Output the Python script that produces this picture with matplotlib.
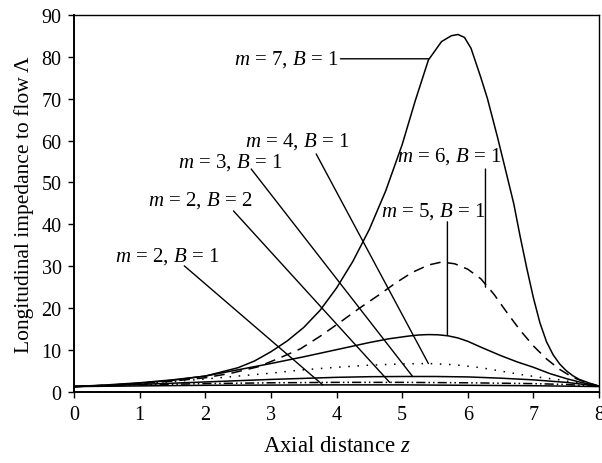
import numpy as np
import matplotlib
matplotlib.use("Agg")
import matplotlib.pyplot as plt

plt.rcParams['font.family'] = ['Liberation Serif', 'DejaVu Serif']
plt.rcParams['mathtext.fontset'] = 'custom'
plt.rcParams['mathtext.rm'] = 'Liberation Serif'
plt.rcParams['mathtext.it'] = 'Liberation Serif:italic'

# curves
z7 = [0, 0.5, 1, 1.5, 2, 2.5, 2.75, 3, 3.25, 3.5, 3.75, 4, 4.25, 4.5, 4.75, 5, 5.2, 5.4, 5.6, 5.75,
      5.85, 5.95, 6.05, 6.2, 6.3, 6.45, 6.56, 6.7, 6.8, 6.9, 7.0, 7.1, 7.2, 7.3, 7.4, 7.5,
      7.6, 7.7, 7.84, 8]
l7 = [1.3, 1.6, 2.1, 2.8, 3.8, 5.8, 7.4, 9.6, 12.2, 15.4, 19.5, 24.8, 31.2, 38.8, 48.0, 59.0, 69.5, 79.2, 83.6, 85.0,
      85.3, 84.6, 82, 75, 70, 61, 54, 45, 37, 29.5, 22.5, 16.5, 12, 8.9, 6.7, 5.1,
      3.9, 3.0, 2.2, 1.4]

z6 = [0, 0.5, 1, 1.5, 2, 2.4, 2.8, 3.1, 3.45, 3.75, 4.05, 4.35, 4.65, 4.9, 5.15, 5.4, 5.6, 5.8,
      6.0, 6.2, 6.4, 6.6, 6.8, 7.0, 7.2, 7.4, 7.6, 7.8, 8]
l6 = [1.3, 1.6, 2.0, 2.6, 3.4, 4.5, 6.0, 7.9, 10.3, 13.3, 16.6, 20.0, 23.2, 26.0, 28.5, 30.3, 31.0, 30.6,
      29.3, 27.0, 23.3, 18.9, 14.7, 11.0, 7.9, 5.4, 3.5, 2.3, 1.4]

z5 = [0, 0.5, 1, 1.5, 2, 2.5, 3, 3.5, 4, 4.5, 4.8, 5.1, 5.25, 5.4, 5.55, 5.7, 5.85, 6.0, 6.2, 6.5,
      6.75, 7.0, 7.25, 7.5, 7.75, 8]
l5 = [1.3, 1.7, 2.2, 2.9, 3.8, 5.3, 6.8, 8.4, 10.1, 11.8, 12.7, 13.35, 13.6, 13.7, 13.65, 13.4, 12.9, 12.1, 10.7, 8.7,
      7.2, 5.9, 4.4, 3.2, 2.2, 1.4]

z4 = [0, 0.5, 1, 1.5, 2, 2.5, 3, 3.5, 4, 4.5, 5, 5.4, 5.8, 6.2, 6.5, 6.8, 7.1, 7.4, 7.7, 8]
l4 = [1.3, 1.6, 2.0, 2.5, 3.1, 3.8, 4.5, 5.3, 5.9, 6.4, 6.7, 6.8, 6.5, 5.8, 5.0, 4.2, 3.5, 2.9, 2.1, 1.4]

z3 = [0, 0.5, 1, 1.5, 2, 2.5, 3, 3.5, 4, 4.5, 5, 5.5, 6, 6.5, 7, 7.5, 8]
l3 = [1.3, 1.5, 1.8, 2.1, 2.4, 2.7, 3.0, 3.25, 3.5, 3.65, 3.7, 3.7, 3.6, 3.3, 2.9, 2.3, 1.4]

z22 = [0, 1, 2, 3, 4, 5, 6, 7, 7.5, 8]
l22 = [1.3, 1.7, 2.0, 2.2, 2.3, 2.3, 2.2, 2.0, 1.8, 1.3]

z21 = [0, 1, 2, 3, 4, 5, 6, 7, 8]
l21 = [1.3, 1.45, 1.6, 1.65, 1.7, 1.7, 1.6, 1.5, 1.3]

# label text, text position, leader start, leader end
labels = [r'$m$ = 7, $B$ = 1', r'$m$ = 6, $B$ = 1', r'$m$ = 5, $B$ = 1', r'$m$ = 4, $B$ = 1',
          r'$m$ = 3, $B$ = 1', r'$m$ = 2, $B$ = 2', r'$m$ = 2, $B$ = 1']
text_xy = [(4.03, 79.5), (5.71, 56.3), (5.47, 43.2), (3.40, 60.0), (2.38, 55.1), (1.92, 45.8), (1.42, 32.5)]
lead_from = [(4.06, 79.5), (6.27, 53.2), (5.69, 40.6), (3.69, 56.8), (2.70, 53.2), (2.43, 43.2), (1.68, 30.1)]
lead_to = [(5.40, 79.5), (6.27, 25.0), (5.69, 13.5), (5.40, 6.8), (5.16, 3.7), (4.81, 2.3), (3.79, 1.7)]

fig = plt.figure(figsize=(6.02, 4.64), dpi=100)
ax = fig.add_axes([0.123, 0.153, 0.872, 0.813])

lw = 1.1
ax.plot(z7, l7, color='black', lw=lw)
ax.plot(z6, l6, color='black', lw=lw, ls=(0, (7, 4.5)))
ax.plot(z5, l5, color='black', lw=lw)
ax.plot(z4, l4, color='black', lw=lw, ls=(0, (1, 5)))
ax.plot(z3, l3, color='black', lw=lw)
ax.plot(z22, l22, color='black', lw=lw, ls=(0, (6, 2, 1, 2, 1, 2)))
ax.plot(z21, l21, color='black', lw=lw)

for i in range(len(labels)):
    if i == 0:
        ax.text(text_xy[i][0], text_xy[i][1], labels[i], fontsize=15, ha='right', va='center')
    else:
        ax.text(text_xy[i][0], text_xy[i][1], labels[i], fontsize=15, ha='center', va='center')
    ax.annotate('', xy=lead_to[i], xytext=lead_from[i],
                arrowprops=dict(arrowstyle='-', color='black', lw=1.0, shrinkA=0, shrinkB=0))

ax.set_xlim(0, 8)
ax.set_ylim(0, 90)
ax.set_xticks(range(0, 9))
ax.set_yticks(range(0, 91, 10))
ax.tick_params(direction='out', length=4, width=1, labelsize=14.5)
ax.tick_params(axis='y', pad=5)
ax.tick_params(axis='x', pad=5)
ax.tick_params(top=False, right=False)
for s in ax.spines.values():
    s.set_linewidth(1.0)
ax.spines['left'].set_linewidth(1.4)
ax.spines['bottom'].set_linewidth(1.4)

ax.set_xlabel(r'Axial distance $z$', fontsize=16.5, labelpad=8)
ax.set_ylabel('Longitudinal impedance to flow Λ', fontsize=15.5, labelpad=5)

fig.savefig('out.png', dpi=100)
